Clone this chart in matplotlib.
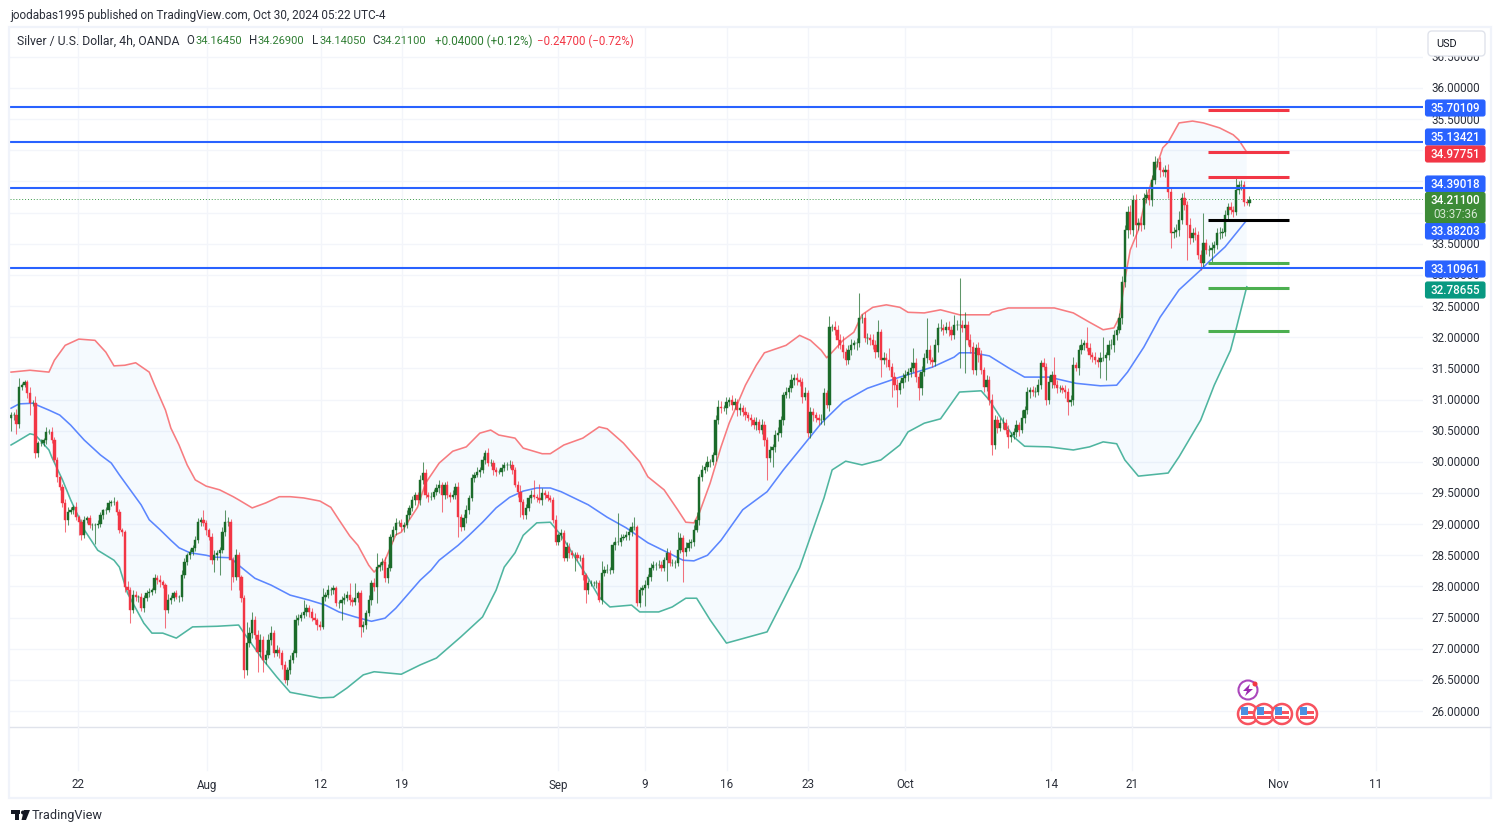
import numpy as np
import matplotlib
matplotlib.use('Agg')
import matplotlib.pyplot as plt
from matplotlib.patches import Rectangle, FancyBboxPatch, Circle

# 4h closes, ten bars to a row
closes = [
    30.75,30.75,30.60,31.20,31.23,31.28,31.10,30.95,30.95,30.14,
    30.30,30.30,30.35,30.48,30.48,30.35,30.03,29.75,29.60,29.34,
    29.07,29.20,29.22,29.27,29.11,29.03,28.82,29.07,29.10,28.98,
    28.98,28.98,29.00,29.15,29.22,29.22,29.34,29.35,29.35,29.20,
    28.90,28.87,27.99,27.94,27.62,27.86,27.83,27.83,27.65,27.81,
    27.89,27.91,27.94,28.13,28.10,28.07,28.02,27.62,27.78,27.81,
    27.89,27.83,27.83,28.18,28.39,28.50,28.55,28.62,28.75,29.03,
    29.07,29.02,28.91,28.79,28.42,28.50,28.54,28.58,28.87,29.03,
    29.03,28.42,28.15,28.50,28.15,27.81,26.66,27.09,27.25,27.46,
    27.22,26.95,27.14,26.82,26.90,27.14,27.25,26.93,26.98,26.93,
    26.74,26.50,26.66,26.82,26.93,27.46,27.49,27.54,27.59,27.65,
    27.59,27.49,27.46,27.38,27.35,27.83,27.86,27.94,27.94,27.97,
    27.73,27.73,27.78,27.81,27.86,27.78,27.75,27.81,27.89,27.35,
    27.38,27.57,27.78,28.05,27.99,28.31,28.34,28.39,28.13,28.30,
    28.79,28.91,29.02,29.02,28.95,28.98,29.15,29.26,29.39,29.47,
    29.39,29.71,29.82,29.47,29.44,29.44,29.52,29.58,29.63,29.47,
    29.63,29.47,29.44,29.47,29.60,29.11,28.95,29.10,29.23,29.42,
    29.74,29.79,29.84,29.87,30.03,30.14,29.98,29.98,29.87,29.84,
    29.84,29.90,29.95,29.95,29.95,29.87,29.63,29.52,29.35,29.15,
    29.26,29.42,29.47,29.44,29.42,29.39,29.50,29.47,29.42,29.39,
    29.07,28.71,28.82,28.86,28.46,28.63,28.54,28.50,28.50,28.46,
    28.46,28.18,27.94,28.05,28.05,28.05,28.05,27.78,28.21,28.26,
    28.26,28.26,28.66,28.71,28.71,28.78,28.79,28.82,28.87,28.95,
    28.95,27.73,27.94,27.97,28.02,28.15,28.30,28.34,28.34,28.34,
    28.30,28.42,28.54,28.38,28.38,28.38,28.58,28.78,28.55,28.62,
    28.70,28.71,28.91,29.07,29.76,29.87,29.92,30.00,30.00,30.11,
    30.67,30.88,30.86,30.86,30.96,30.99,30.91,30.96,30.83,30.86,
    30.80,30.75,30.70,30.67,30.59,30.64,30.51,30.59,30.35,30.06,
    30.19,30.24,30.43,30.46,30.67,31.07,31.12,31.18,31.31,31.35,
    31.31,31.28,31.04,31.10,30.46,30.80,30.75,30.70,30.67,30.67,
    31.10,30.91,32.16,32.16,32.12,31.95,31.87,31.76,31.63,31.79,
    31.87,31.90,31.90,32.31,32.31,31.99,31.99,31.95,31.87,31.76,
    32.08,31.63,31.67,31.63,31.52,31.36,31.23,31.15,31.26,31.34,
    31.39,31.44,31.50,31.59,31.36,31.18,31.44,31.67,31.79,31.63,
    31.60,31.87,32.15,32.15,32.12,32.16,32.12,32.03,32.20,32.20,
    32.20,32.15,32.20,31.95,31.84,31.47,31.83,31.71,31.47,31.20,
    31.31,30.99,30.27,30.67,30.54,30.62,30.62,30.51,30.40,30.43,
    30.48,30.59,30.51,30.70,30.83,31.12,31.15,31.12,31.12,31.23,
    31.59,31.52,30.99,31.28,31.39,31.23,31.18,31.18,31.15,31.12,
    30.96,30.99,31.55,31.50,31.79,31.87,31.90,31.83,31.71,31.68,
    31.63,31.60,31.67,31.67,31.71,31.87,31.87,32.03,32.12,32.31,
    32.89,33.72,34.01,33.72,34.20,33.80,33.83,33.80,34.23,34.28,
    34.20,34.52,34.81,34.81,34.68,34.65,34.68,34.33,33.67,33.69,
    33.72,33.88,34.23,34.12,33.80,33.59,33.67,33.64,33.32,33.19,
    33.51,33.40,33.40,33.43,33.48,33.67,33.67,33.69,33.96,34.09,
    34.04,34.01,34.36,34.44,34.44,34.17,34.16,34.21,
]
first_open = 30.70

# wick length above / below the body, in cents
wick_up = [
    5,5,10,15,4,3,4,10,5,10,
    4,6,3,8,5,8,5,4,3,5,
    6,8,5,4,8,3,5,6,3,5,
    4,3,6,5,3,6,4,3,8,4,
    5,4,4,10,5,8,6,3,7,5,
    5,6,3,7,5,8,4,4,10,6,
    4,6,3,8,6,4,5,5,6,7,
    5,15,4,3,6,8,5,5,8,20,
    8,5,6,10,6,4,5,34,10,13,
    6,8,10,6,8,10,12,5,8,5,
    5,6,4,8,5,8,6,5,19,6,
    5,6,8,4,7,14,5,8,5,6,
    4,5,6,8,6,19,5,24,4,6,
    6,5,8,6,8,23,5,6,8,6,
    5,6,8,4,6,5,8,5,6,4,
    5,8,18,6,4,8,5,6,8,5,
    4,6,5,8,6,7,5,6,8,5,
    6,5,8,4,6,5,8,6,5,4,
    5,7,4,5,8,6,5,6,10,5,
    6,5,8,24,5,22,8,5,6,4,
    5,8,4,6,5,8,6,4,5,6,
    5,6,4,5,6,4,5,6,20,6,
    10,5,6,8,47,6,5,7,6,8,
    17,4,5,6,8,5,7,6,5,8,
    6,5,8,4,6,5,29,8,5,10,
    6,5,8,12,5,8,6,10,5,4,
    8,12,10,6,8,5,8,6,5,8,
    6,8,5,6,5,8,4,10,6,5,
    6,5,8,10,6,5,8,6,10,6,
    8,5,6,10,5,8,6,5,7,10,
    8,6,18,5,10,8,10,15,6,8,
    10,6,8,40,6,10,8,6,10,8,
    20,6,10,8,20,6,8,10,6,8,
    8,6,10,23,8,6,10,8,52,8,
    6,10,8,15,6,8,10,6,15,8,
    75,8,20,6,10,8,6,10,8,6,
    8,6,10,8,6,8,10,6,8,5,
    6,8,5,13,6,8,5,6,8,10,
    5,8,6,10,6,30,8,5,6,8,
    6,8,13,6,8,10,6,26,8,6,
    8,6,10,33,6,8,10,8,6,8,
    10,8,10,12,8,10,8,12,8,10,
    12,8,10,6,8,6,8,10,6,8,
    10,15,8,10,6,12,8,10,6,8,
    49,6,8,10,6,8,10,6,8,6,
    8,6,19,6,8,6,5,6,
]
wick_dn = [
    20,8,15,5,4,3,8,20,6,8,
    6,5,4,6,3,5,4,8,5,6,
    20,8,4,6,5,20,8,5,6,4,
    8,30,5,4,6,5,3,5,4,6,
    5,6,8,6,20,5,6,8,5,6,
    4,6,5,4,6,8,5,28,4,6,
    5,4,8,6,5,4,6,4,5,6,
    6,5,8,5,6,19,8,36,5,6,
    6,48,8,5,20,6,13,8,6,8,
    6,32,8,19,6,5,8,6,5,8,
    6,5,8,6,5,6,8,5,4,6,
    8,5,6,8,5,4,6,5,7,6,
    5,8,27,6,5,8,6,5,6,16,
    8,6,5,8,6,26,6,8,6,8,
    5,6,8,5,6,8,4,6,5,8,
    5,8,6,5,8,6,4,5,8,28,
    6,5,8,4,6,31,6,5,8,6,
    5,6,4,8,5,6,4,5,8,6,
    4,6,5,8,5,6,4,8,24,6,
    6,5,8,4,6,5,8,6,5,4,
    6,5,4,8,6,5,8,5,25,6,
    5,8,21,6,5,4,8,3,6,5,
    5,6,4,8,5,6,4,5,8,6,
    5,4,6,8,28,5,6,4,8,5,
    6,5,33,6,5,8,6,5,48,6,
    5,8,6,4,8,6,5,6,8,5,
    10,6,8,5,10,6,8,6,10,8,
    6,8,5,10,6,8,5,6,10,35,
    6,27,8,10,6,8,5,10,6,8,
    8,6,10,5,6,8,10,6,8,6,
    8,5,10,6,8,12,6,10,8,6,
    8,6,10,5,8,6,10,8,6,10,
    8,27,6,10,5,32,8,27,6,8,
    6,10,8,6,8,19,10,6,8,6,
    8,6,10,5,8,6,10,8,6,8,
    70,6,73,8,10,6,8,10,6,8,
    6,8,16,6,8,5,10,6,18,8,
    6,8,10,5,8,6,10,6,8,5,
    6,5,8,6,10,5,8,6,5,10,
    21,6,8,5,10,6,8,5,6,8,
    6,8,25,5,36,8,6,10,8,6,
    10,8,12,6,10,35,8,10,6,8,
    8,10,6,8,10,6,8,10,24,8,
    8,10,6,8,56,10,6,8,6,11,
    8,6,10,19,8,6,10,8,6,8,
    6,8,5,6,8,6,4,5,
]

# bollinger bands, read at the bends
upper_bars = [0,7,14,16,20,25,31,35,38,42,46,51,53,57,59,62,65,68,72,77,82,84,89,94,99,103,108,114,118,121,125,128,132,134,138,142,144,150,153,158,163,168,173,177,180,186,189,196,199,204,211,217,220,226,232,235,241,246,249,252,254,258,262,265,271,275,278,286,291,295,299,301,303,307,311,314,318,323,328,331,337,343,350,361,362,368,375,385,392,398,403,407,409,411,413,416,418,421,425,427,431,436,440,446,451,453,456]
upper_vals = [31.44,31.47,31.44,31.63,31.87,31.97,31.95,31.76,31.54,31.55,31.59,31.44,31.23,30.83,30.54,30.27,29.95,29.71,29.61,29.55,29.44,29.39,29.26,29.34,29.44,29.44,29.42,29.37,29.27,29.07,28.81,28.66,28.34,28.23,28.42,28.83,28.87,29.27,29.66,29.98,30.17,30.24,30.46,30.51,30.43,30.38,30.22,30.13,30.13,30.27,30.38,30.56,30.53,30.30,30.00,29.76,29.55,29.23,29.03,29.02,29.18,29.66,30.24,30.62,31.23,31.55,31.75,31.87,32.03,31.95,31.79,31.67,31.76,31.95,32.08,32.36,32.48,32.52,32.48,32.40,32.39,32.44,32.36,32.36,32.40,32.47,32.47,32.47,32.39,32.24,32.12,32.15,32.32,32.92,33.40,33.72,34.09,34.52,35.04,35.13,35.44,35.47,35.44,35.36,35.25,35.17,34.97]
middle_bars = [0,3,8,14,18,22,27,33,37,40,44,48,51,55,59,62,66,72,75,81,84,90,96,103,110,116,121,127,133,138,142,144,151,155,158,165,169,174,179,184,189,194,199,203,213,220,227,235,242,248,252,257,262,270,279,285,291,299,307,316,328,340,348,350,355,361,368,374,383,393,402,408,412,418,424,431,439,442,448,456]
middle_vals = [30.86,30.93,30.94,30.83,30.75,30.59,30.35,30.11,29.98,29.79,29.55,29.31,29.07,28.91,28.74,28.62,28.54,28.50,28.47,28.46,28.34,28.13,28.02,27.86,27.78,27.70,27.59,27.51,27.44,27.49,27.65,27.75,28.10,28.26,28.42,28.66,28.82,29.03,29.26,29.43,29.53,29.58,29.58,29.52,29.31,29.11,28.94,28.70,28.55,28.42,28.41,28.50,28.74,29.23,29.52,29.87,30.19,30.62,30.96,31.18,31.36,31.52,31.68,31.75,31.75,31.70,31.51,31.36,31.36,31.26,31.22,31.23,31.44,31.84,32.32,32.76,33.08,33.21,33.45,33.88]
lower_bars = [0,2,7,9,14,15,19,22,25,27,32,38,40,43,49,52,56,61,67,76,84,86,93,98,103,114,119,124,130,134,144,151,157,166,174,179,182,186,189,194,199,203,213,217,221,229,232,239,244,249,253,258,264,279,285,291,300,303,308,314,321,328,331,337,343,350,358,361,365,370,374,383,392,398,403,408,411,416,427,431,439,444,450,452,456]
lower_vals = [30.27,30.32,30.45,30.43,30.19,30.08,29.71,29.39,29.11,28.91,28.58,28.42,28.31,27.89,27.41,27.25,27.25,27.17,27.35,27.36,27.38,27.25,26.82,26.55,26.30,26.21,26.22,26.37,26.58,26.63,26.59,26.74,26.85,27.19,27.51,27.94,28.31,28.54,28.82,29.02,29.03,28.82,28.13,27.83,27.67,27.70,27.59,27.59,27.67,27.81,27.81,27.46,27.09,27.27,27.78,28.30,29.42,29.87,30.01,29.95,30.03,30.27,30.48,30.62,30.69,31.12,31.14,30.99,30.72,30.40,30.25,30.24,30.19,30.24,30.32,30.29,30.03,29.77,29.82,30.08,30.67,31.23,31.79,32.12,32.81]

level_prices = [35.70109, 35.13421, 34.39018, 33.10961]
short_prices = [35.65, 34.97, 34.57, 33.88, 33.19, 32.79, 32.10]
short_colors = ['#f23645', '#f23645', '#f23645', '#000000', '#4caf50', '#4caf50', '#4caf50']
short_start, short_end = 441.7, 471.6
last_price = 34.211

price_ticks = np.arange(26.0, 36.51, 0.5)
hidden_tick_labels = [34.0, 34.5, 35.0]  # sit fully under the boxes
date_bars = [24.7, 72.3, 114.4, 144.3, 201.8, 233.9, 264.2, 294.1, 329.9, 383.8, 413.7, 467.5, 503.7]
date_labels = ['22', 'Aug', '12', '19', 'Sep', '9', '16', '23', 'Oct', '14', '21', 'Nov', '11']

# (label, y pixel, colour) for the boxes on the price scale
price_boxes = [('35.70109', 108, '#2962ff'), ('35.13421', 137, '#2962ff'), ('34.97751', 154, '#f23645'),
               ('34.39018', 184, '#2962ff'), ('33.88203', 231, '#2962ff'), ('33.10961', 269, '#2962ff'),
               ('32.78655', 290, '#089981')]

UP = '#1b6b2a'
DOWN = '#f23645'
W, H = 1500, 832
plt.rcParams['font.family'] = ['Roboto', 'DejaVu Sans']

fig = plt.figure(figsize=(W/100, H/100), dpi=100, facecolor='white')
# plot area runs 10..1423 across and 27..727 down
ax = fig.add_axes([10/W, 1-727/H, (1423-10)/W, 700/H])
ax.set_xlim(-0.37, 521.03)
ax.set_ylim(25.743, 36.98)
for s in ax.spines.values():
    s.set_visible(False)
ax.tick_params(left=False, bottom=False, labelleft=False, labelbottom=False)
ax.set_yticks(price_ticks)
ax.set_xticks(date_bars)
ax.grid(True, color='#f3f5fa', lw=1)
ax.set_axisbelow(True)

c = np.array(closes)
o = np.r_[first_open, c[:-1]]
bars = np.arange(len(c))
hi = np.maximum(o, c) + np.array(wick_up)/100
lo = np.minimum(o, c) - np.array(wick_dn)/100
cols = np.where(c >= o, UP, DOWN)

ax.fill(np.r_[upper_bars, lower_bars[::-1]], np.r_[upper_vals, lower_vals[::-1]], color='#2196f3', alpha=0.045, lw=0, zorder=1)
ax.plot(upper_bars, upper_vals, color='#f77c80', lw=1.15, zorder=2, solid_joinstyle='round')
ax.plot(lower_bars, lower_vals, color='#4fb5a0', lw=1.15, zorder=2, solid_joinstyle='round')
ax.plot(middle_bars, middle_vals, color='#5b86ff', lw=1.15, zorder=2, solid_joinstyle='round')
ax.vlines(bars, lo, hi, colors=cols, lw=0.75, alpha=0.7, zorder=3)
ax.bar(bars, np.abs(c-o), bottom=np.minimum(o, c), width=0.85, color=cols, edgecolor=cols, lw=0.3, zorder=4)

ax.axhline(last_price, color='#3d9b4a', lw=0.7, ls=(0, (1, 2)), zorder=3)
for p in level_prices:
    ax.axhline(p, color='#2962ff', lw=1.5, zorder=5)
ax.hlines(short_prices, short_start, short_end, colors=short_colors, lw=2.2, zorder=6)

# everything around the chart goes on a pixel overlay
ov = fig.add_axes([0, 0, 1, 1], facecolor='none')
ov.set_xlim(0, W)
ov.set_ylim(H, 0)
ov.axis('off')

ov.add_patch(Rectangle((9, 27), 1482, 771, fill=False, ec='#f0f3fa', lw=1.6))
ov.plot([10, 1490], [727, 727], color='#e0e3eb', lw=1)
for b, lab in zip(date_bars, date_labels):
    px = 11 + 2.71*b
    ov.plot([px, px], [727, 770], color='#f3f5fa', lw=1)
    ov.text(px, 785, lab, ha='center', va='center', fontsize=8.4, color='#2a2e39')

for p in price_ticks:
    if p in hidden_tick_labels:
        continue
    ov.text(1480, 712-(p-26)*62.3, '%.5f' % p, ha='right', va='center', fontsize=8.4, color='#2a2e39')

for lab, y, col in price_boxes:
    ov.add_patch(FancyBboxPatch((1425.5, y-8), 59.5, 16, boxstyle='round,pad=0,rounding_size=2', fc=col, ec=col, lw=0.8, zorder=5))
    ov.text(1480, y+0.5, lab, ha='right', va='center', fontsize=8.4, color='white', zorder=6, fontweight='medium')
ov.add_patch(FancyBboxPatch((1425.5, 192.5), 59.5, 30, boxstyle='round,pad=0,rounding_size=2', fc='#3d8b37', ec='#3d8b37', lw=0.8, zorder=5))
ov.text(1480, 200.5, '34.21100', ha='right', va='center', fontsize=8.4, color='white', zorder=6, fontweight='medium')
ov.text(1478, 214.5, '03:37:36', ha='right', va='center', fontsize=8.4, color='#d5e8d4', zorder=6)

ov.add_patch(FancyBboxPatch((1428, 31), 57, 25, boxstyle='round,pad=0,rounding_size=4', fc='white', ec='#e0e3eb', lw=1, zorder=7))
ov.text(1447, 44, 'USD', ha='center', va='center', fontsize=7.8, color='#131722', zorder=8)

ov.text(10, 15, 'joodabas1995 published on TradingView.com, Oct 30, 2024 05:22 UTC-4', va='center', fontsize=8.45, color='#2a2e39')
LEG_GREEN = '#2e7d32'
legend_parts = [(17, 'Silver / U.S. Dollar, 4h, OANDA', '#2a2e39', 8.8), (186, 'O', '#2a2e39', 8.3), (195, '34.16450', LEG_GREEN, 8.0),
                (249, 'H', '#2a2e39', 8.3), (257, '34.26900', LEG_GREEN, 8.0), (312, 'L', '#2a2e39', 8.3), (319, '34.14050', LEG_GREEN, 8.0),
                (372, 'C', '#2a2e39', 8.3), (380, '34.21100', LEG_GREEN, 8.0), (435, '+0.04000 (+0.12%)', LEG_GREEN, 8.35),
                (537, '\u22120.24700 (\u22120.72%)', '#f23645', 8.3)]
for x0, txt, col, fs in legend_parts:
    ov.text(x0, 41, txt, va='center', fontsize=fs, color=col)

# event flags
for fx in [1248, 1264, 1282, 1307]:
    ov.add_patch(Circle((fx, 714), 10, fc='white', ec='#f7525f', lw=1.8, zorder=5))
    ov.add_patch(Rectangle((fx-7, 716), 14, 3, fc='#f7525f', ec='none', zorder=6))
    ov.add_patch(Rectangle((fx-1, 711), 8, 2.5, fc='#f7525f', ec='none', zorder=6))
    ov.add_patch(Rectangle((fx-7, 707), 7, 8, fc='#4a90e2', ec='none', zorder=6))
ov.add_patch(Circle((1248, 690), 9.5, fc='white', ec='#ab47bc', lw=1.5, zorder=5))
ov.fill([1250, 1243, 1247, 1245, 1253, 1248.5], [684, 691, 691, 696, 689, 689], color='#9c27b0', lw=0, zorder=6)
ov.add_patch(Circle((1255, 684), 2.5, fc='#f23645', ec='none', zorder=6))

# logo
ov.add_patch(Rectangle((11, 810), 9, 4, fc='#131722', ec='none'))
ov.add_patch(Rectangle((15, 810), 4, 10, fc='#131722', ec='none'))
ov.add_patch(Circle((23, 812.5), 2, fc='#131722', ec='none'))
ov.fill([24, 30, 26, 21.5], [810, 810, 820, 820], color='#131722', lw=0)
ov.text(32, 815.5, 'TradingView', va='center', fontsize=9.2, color='#2a2e39')

fig.savefig('out.png', dpi=100)
